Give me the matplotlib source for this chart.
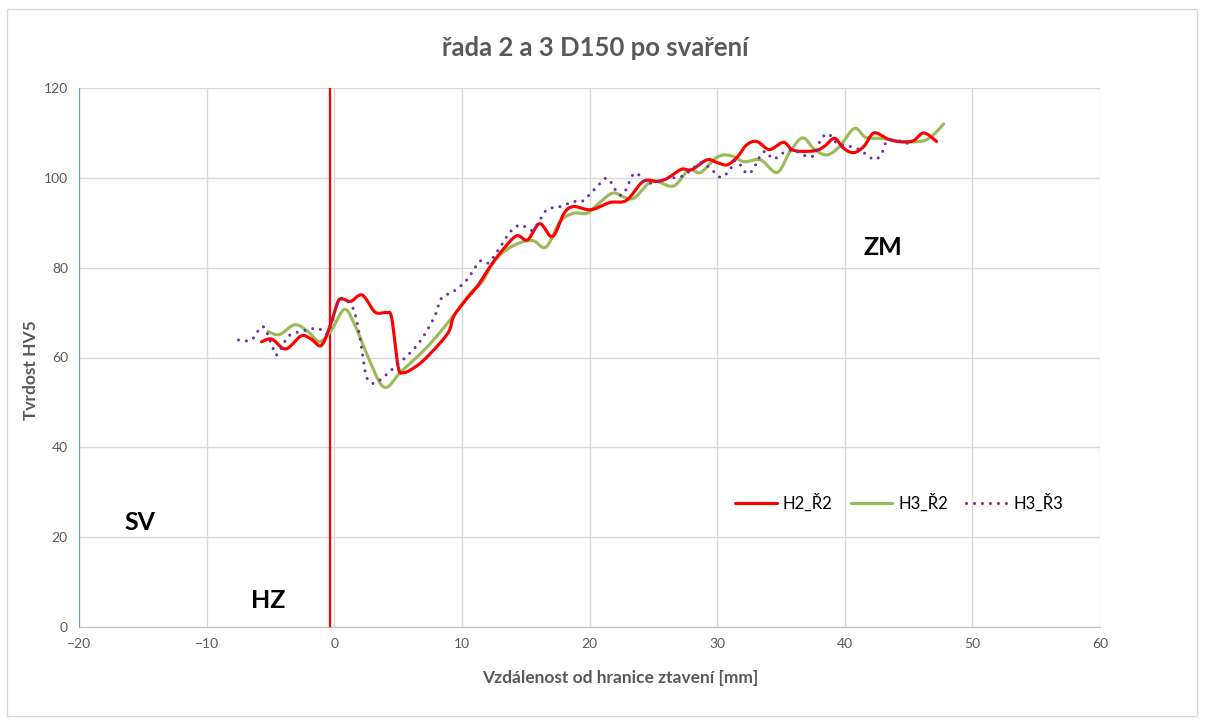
import numpy as np
import matplotlib
matplotlib.use("Agg")
import matplotlib.pyplot as plt
from matplotlib.patches import Rectangle

# ---------------- data ----------------
title = "řada 2 a 3 D150 po svaření"
xlabel = "Vzdálenost od hranice ztavení [mm]"
ylabel = "Tvrdost HV5"
xticks = [-20, -10, 0, 10, 20, 30, 40, 50, 60]
yticks = [0, 20, 40, 60, 80, 100, 120]

h2r2_x = [-5.7, -4.9, -3.8, -2.6, -1.8, -1.0, -0.25, 0.3, 0.7, 1.3, 2.2, 3.2, 4.1, 4.5,
          5.0, 5.4, 6.3, 7.3, 8.9, 9.35, 10.3, 11.2, 12.2, 13.3, 14.3, 15.15, 16.1, 17.1,
          18.0, 18.75, 20.1, 21.6, 22.9, 24.2, 25.3, 26.1, 27.2, 28.0, 29.2, 30.0, 30.8,
          31.6, 32.3, 33.1, 34.1, 35.2, 36.0, 37.6, 38.4, 39.2, 39.9, 40.7, 41.5, 42.3,
          43.4, 44.5, 45.4, 46.2, 47.2]
h2r2_y = [63.5, 64.1, 61.9, 64.8, 64.1, 62.7, 67.7, 72.5, 73.0, 72.5, 73.9, 70.1, 70.0, 68.8,
          58.0, 56.6, 57.8, 60.2, 65.4, 69.1, 72.8, 75.8, 80.2, 84.3, 87.1, 86.2, 89.8, 86.9,
          92.1, 93.6, 92.9, 94.5, 95.0, 99.2, 99.2, 99.9, 101.9, 101.8, 104.0, 103.4, 102.9,
          104.7, 107.3, 108.1, 106.3, 107.9, 106.1, 106.0, 107.0, 108.8, 106.6, 105.6, 107.0, 110.0,
          108.6, 108.0, 108.3, 110.0, 108.1]

h3r2_x = [-5.2, -4.3, -3.1, -2.06, -1.15, -0.23, 0.8, 1.6, 2.64, 3.9, 5.25, 7.3, 9.4, 10.66,
          11.6, 12.5, 13.5, 14.6, 15.6, 16.6, 17.7, 18.75, 19.8, 20.6, 21.8, 22.7, 23.5, 24.7,
          25.3, 26.6, 27.8, 28.7, 30.0, 31.0, 32.1, 33.4, 34.7, 35.7, 36.7, 37.6, 38.6, 39.6,
          40.75, 41.65, 42.9, 44.3, 45.9, 46.8, 47.75]
h3r2_y = [65.8, 65.1, 67.3, 65.8, 63.5, 66.1, 70.7, 67.3, 60.2, 53.4, 56.9, 62.4, 69.5, 74.3,
          76.9, 81.4, 84.0, 85.6, 86.0, 84.6, 90.3, 92.1, 92.1, 94.0, 96.6, 95.7, 95.5, 99.0,
          99.2, 98.2, 101.8, 101.2, 104.6, 105.0, 103.6, 104.0, 101.2, 105.8, 108.9, 106.4, 105.1, 107.0,
          111.0, 109.0, 108.8, 108.1, 108.1, 109.2, 112.0]

h3r3_x = [-7.5, -6.5, -5.6, -4.9, -4.5, -3.6, -2.6, -1.3, -0.5, 0.16, 0.6, 1.46, 1.98, 2.4,
          2.76, 3.4, 4.7, 5.8, 6.8, 7.86, 8.4, 9.35, 10.4, 11.4, 12.1, 13.0, 13.8, 14.6, 15.5,
          16.1, 16.7, 17.7, 18.75, 19.5, 20.6, 21.4, 22.2, 22.7, 23.4, 23.85, 24.4, 25.3, 26.3,
          27.2, 28.0, 28.7, 29.5, 30.3, 31.0, 31.5, 32.3, 32.8, 33.3, 33.8, 34.4, 35.2, 36.0,
          36.8, 37.6, 38.1, 38.7, 39.4, 40.4, 41.2, 42.3, 42.9, 43.3, 44.1, 44.9, 45.3]
h3r3_y = [63.9, 63.9, 66.9, 62.8, 60.6, 64.7, 65.8, 66.5, 65.4, 71.3, 73.2, 71.0, 65.0, 57.2,
          54.6, 54.6, 57.8, 60.6, 63.9, 69.1, 73.2, 74.7, 77.3, 81.4, 81.1, 84.6, 88.0, 89.5, 88.3,
          90.6, 93.0, 93.6, 94.7, 94.9, 98.1, 99.9, 96.6, 96.6, 100.7, 100.7, 98.8, 99.2, 99.9,
          100.3, 101.8, 103.4, 102.0, 100.1, 101.8, 103.9, 101.0, 101.8, 104.5, 105.9, 104.2, 105.6, 106.2,
          105.0, 105.0, 108.4, 109.8, 107.7, 107.0, 106.2, 104.1, 105.5, 108.1, 108.3, 107.7, 106.6]

boundary_x = [-0.3, -0.3]
boundary_y = [0, 120]

zone_labels = ["SV", "HZ", "ZM"]
zone_x = [-15.2, -5.2, 43.0]
zone_y = [23.2, 6.0, 84.4]

series_names = ["H2_Ř2", "H3_Ř2", "H3_Ř3"]


def smooth(xs, ys, n=16):
    """Catmull-Rom rendering of a line through the given points (like Excel 'smoothed line')."""
    p = np.column_stack([xs, ys]).astype(float)
    p = np.vstack([p[0], p, p[-1]])
    out = []
    t = np.linspace(0, 1, n, endpoint=False)
    for i in range(1, len(p) - 2):
        p0, p1, p2, p3 = p[i - 1], p[i], p[i + 1], p[i + 2]
        tt = t[:, None]
        seg = 0.5 * ((2 * p1) + (-p0 + p2) * tt + (2 * p0 - 5 * p1 + 4 * p2 - p3) * tt ** 2
                     + (-p0 + 3 * p1 - 3 * p2 + p3) * tt ** 3)
        out.append(seg)
    out.append(p[-2][None, :])
    a = np.vstack(out)
    return a[:, 0], a[:, 1]


plt.rcParams['font.family'] = ['Lato', 'DejaVu Sans']

W, H = 1206, 722
fig = plt.figure(figsize=(W / 100, H / 100), dpi=100)
fig.patch.set_facecolor("white")
fig.patches.append(Rectangle((7 / W, 1 - 716 / H), (1197 - 7) / W, (716 - 9) / H,
                             transform=fig.transFigure, fill=False, edgecolor="#D9D9D9", lw=1))

AX_L, AX_R, AX_T, AX_B = 79, 1100, 88, 627
ax = fig.add_axes([AX_L / W, 1 - AX_B / H, (AX_R - AX_L) / W, (AX_B - AX_T) / H])
ax.set_xlim(-20, 60)
ax.set_ylim(0, 120)
ax.set_xticks(xticks)
ax.set_yticks(yticks)
ax.grid(True, color="#D9D9D9", lw=1)
ax.set_axisbelow(True)
for s in ["top", "right"]:
    ax.spines[s].set_visible(False)
ax.spines["bottom"].set_color("#BFBFBF")
ax.spines["left"].set_color("#5B9BD5")
ax.tick_params(length=0, colors="#595959", labelsize=10, pad=8)

ax.plot(boundary_x, boundary_y, color="#FF0000", lw=1.6, zorder=3)

sx, sy = smooth(h2r2_x, h2r2_y)
ax.plot(sx, sy, color="#FF0000", lw=2.25, label=series_names[0], zorder=5,
        solid_capstyle="round")
sx, sy = smooth(h3r2_x, h3r2_y)
ax.plot(sx, sy, color="#9BBB59", lw=2.25, label=series_names[1], zorder=4,
        solid_capstyle="round")
sx, sy = smooth(h3r3_x, h3r3_y)
ax.plot(sx, sy, color="#7030A0", lw=2.2, linestyle=(0, (0.01, 2.6)),
        dash_capstyle="round", label=series_names[2], zorder=6)

for t, x, y in zip(zone_labels, zone_x, zone_y):
    ax.text(x, y, t, fontsize=18, fontweight="bold", color="black", ha="center", va="center")

fig.text(595 / W, 1 - 48 / H, title, fontsize=18.5, fontweight="bold", color="#595959",
         ha="center", va="center")
ax.set_xlabel(xlabel, fontsize=12.5, fontweight="bold", color="#595959", va="center")
ax.xaxis.set_label_coords((620 - AX_L) / (AX_R - AX_L), -(678 - AX_B) / (AX_B - AX_T))
ax.set_ylabel(ylabel, fontsize=12.5, fontweight="bold", color="#595959", va="center")
ax.yaxis.set_label_coords((31 - AX_L) / (AX_R - AX_L), (AX_B - 370) / (AX_B - AX_T))

leg = ax.legend(loc="center left", bbox_to_anchor=((735 - AX_L) / (AX_R - AX_L), (AX_B - 503) / (AX_B - AX_T)),
                ncol=3, frameon=False, fontsize=12, handlelength=2.5, handletextpad=0.35,
                columnspacing=1.1, borderpad=0, borderaxespad=0)
for t in leg.get_texts():
    t.set_color("black")

fig.savefig("out.png", dpi=100, facecolor="white")
